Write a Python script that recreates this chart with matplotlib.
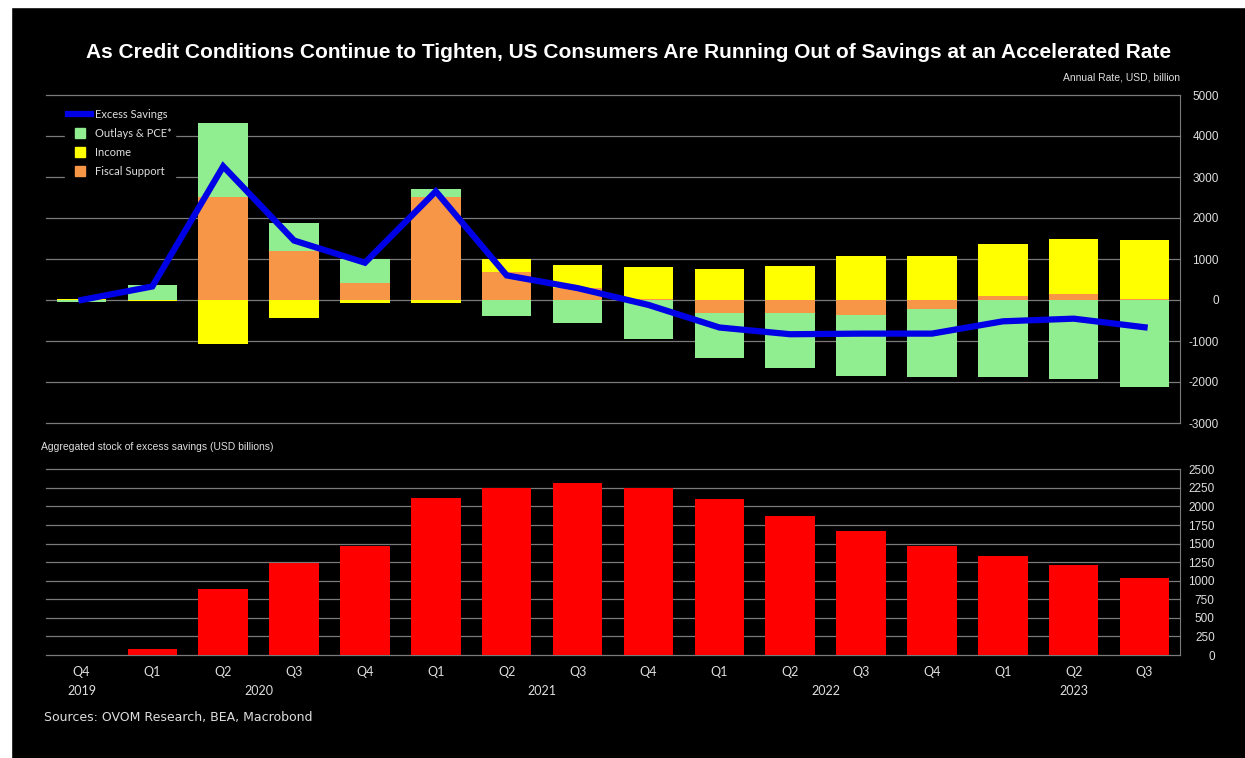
import numpy as np
import matplotlib
matplotlib.use('Agg')
import matplotlib.pyplot as plt
from matplotlib.lines import Line2D
from matplotlib.patches import Rectangle

plt.rcParams['axes.unicode_minus'] = False

quarters = ['Q4', 'Q1', 'Q2', 'Q3', 'Q4', 'Q1', 'Q2', 'Q3', 'Q4',
            'Q1', 'Q2', 'Q3', 'Q4', 'Q1', 'Q2', 'Q3']
years = ['2019', '2020', '2021', '2022', '2023']
year_pos = [0, 2.5, 6.5, 10.5, 14]

# components, annual rate USD bn
outlays = [-40, 360, 1800, 690, 570, 190, -390, -570, -950, -1080, -1325, -1487, -1640, -1868, -1933, -2112]
income = [20, -20, -1080, -440, -80, -65, 325, 560, 770, 747, 829, 1072, 1072, 1275, 1332, 1454]
fiscal = [0, 0, 2520, 1195, 420, 2510, 682, 290, 30, -325, -325, -365, -227, 97, 146, 15]
excess = [0, 330, 3260, 1450, 910, 2650, 600, 290, -120, -670, -835, -820, -820, -520, -455, -665]

# aggregated stock of excess savings
stock = [0, 85, 889, 1243, 1468, 2110, 2253, 2311, 2253, 2096, 1876, 1674, 1468, 1338, 1212, 1041]

c_green = '#90EE90'
c_yellow = '#FFFF00'
c_orange = '#F79646'
c_blue = '#0000E6'
c_red = '#FF0000'
c_grid = '#7a7a7a'
c_text = '#dedede'

fig = plt.figure(figsize=(12.45, 7.58), dpi=100, facecolor='black')
# white strips of the screenshot
fig.patches.append(Rectangle((0, 0), 11 / 1245, 1, transform=fig.transFigure, color='white', zorder=0))
fig.patches.append(Rectangle((0, 1 - 7 / 758), 1, 7 / 758, transform=fig.transFigure, color='white', zorder=0))

x = np.arange(len(quarters))
L, R = 46 / 1245, 1180 / 1245

ax = fig.add_axes([L, 1 - 423 / 758, R - L, 328 / 758], facecolor='black')
ax2 = fig.add_axes([L, 1 - 655 / 758, R - L, 185.7 / 758], facecolor='black')

# stacked bars, positives and negatives stacked separately
pos_base = np.zeros(len(x))
neg_base = np.zeros(len(x))
for vals, col in [(fiscal, c_orange), (income, c_yellow), (outlays, c_green)]:
    v = np.array(vals, dtype=float)
    base = np.where(v >= 0, pos_base, neg_base)
    ax.bar(x, v, 0.7, bottom=base, color=col, zorder=2)
    pos_base += np.where(v >= 0, v, 0)
    neg_base += np.where(v < 0, v, 0)
ax.plot(x, excess, color=c_blue, lw=4.5, zorder=3, solid_joinstyle='miter')

ax.set_xlim(-0.5, 15.5)
ax.set_ylim(-3000, 5000)
ax.set_yticks(np.arange(-3000, 5001, 1000))
ax.yaxis.tick_right()
ax.tick_params(axis='y', length=0, pad=28, labelsize=8.5, labelcolor=c_text)
for t in ax.get_yticklabels():
    t.set_ha('right')
    t.set_family('Liberation Sans')
ax.set_xticks([])
ax.grid(axis='y', color=c_grid, lw=0.9)
ax.set_axisbelow(True)
for s in ['top', 'left', 'bottom']:
    ax.spines[s].set_visible(False)
ax.spines['right'].set_color(c_grid)

handles = [Line2D([], [], color=c_blue, lw=4.5),
           Line2D([], [], ls='none', marker='s', ms=6.5, color=c_green),
           Line2D([], [], ls='none', marker='s', ms=6.5, color=c_yellow),
           Line2D([], [], ls='none', marker='s', ms=6.5, color=c_orange)]
leg = ax.legend(handles, ['Excess Savings', 'Outlays & PCE*', 'Income', 'Fiscal Support'],
                loc='upper left', bbox_to_anchor=(0.012, 0.985), facecolor='black', edgecolor='black',
                framealpha=1, fancybox=False, handlelength=2.0, handletextpad=0.4, labelspacing=0.72,
                borderpad=0.3, prop={'family': 'Lato', 'size': 8})
for t in leg.get_texts():
    t.set_color(c_text)

ax2.bar(x, stock, 0.7, color=c_red, zorder=2)
ax2.set_xlim(-0.5, 15.5)
ax2.set_ylim(0, 2500)
ax2.set_yticks(np.arange(0, 2501, 250))
ax2.yaxis.tick_right()
ax2.tick_params(axis='y', length=0, pad=25, labelsize=8.5, labelcolor=c_text)
for t in ax2.get_yticklabels():
    t.set_ha('right')
    t.set_family('Liberation Sans')
ax2.set_xticks(x)
ax2.set_xticklabels(quarters, family='Lato', fontsize=9, color=c_text)
ax2.tick_params(axis='x', length=0, pad=8)
ax2.grid(axis='y', color=c_grid, lw=0.9)
ax2.set_axisbelow(True)
for s in ['top', 'left', 'bottom']:
    ax2.spines[s].set_visible(False)
ax2.spines['right'].set_color(c_grid)
for yr, p in zip(years, year_pos):
    ax2.text(p, -0.194, yr, transform=ax2.get_xaxis_transform(), ha='center', va='center',
             family='Lato', fontsize=9, color=c_text)

for a in (ax, ax2):
    for gl in a.yaxis.get_gridlines():
        gl.set_clip_on(False)

fig.text(629 / 1245, 1 - 52 / 758,
         'As Credit Conditions Continue to Tighten, US Consumers Are Running Out of Savings at an Accelerated Rate',
         ha='center', va='center', color='white', fontsize=15, fontweight='bold', family='Liberation Sans')
fig.text(1180 / 1245, 1 - 78 / 758, 'Annual Rate, USD, billion', ha='right', va='center',
         color=c_text, fontsize=7.5, family='Liberation Sans')
fig.text(41 / 1245, 1 - 447 / 758, 'Aggregated stock of excess savings (USD billions)', ha='left', va='center',
         color=c_text, fontsize=7.5, family='Liberation Sans')
fig.text(44 / 1245, 1 - 717 / 758, 'Sources: OVOM Research, BEA, Macrobond', ha='left', va='center',
         color=c_text, fontsize=9, family='DejaVu Sans')

fig.savefig('out.png', dpi=100, facecolor='black')
